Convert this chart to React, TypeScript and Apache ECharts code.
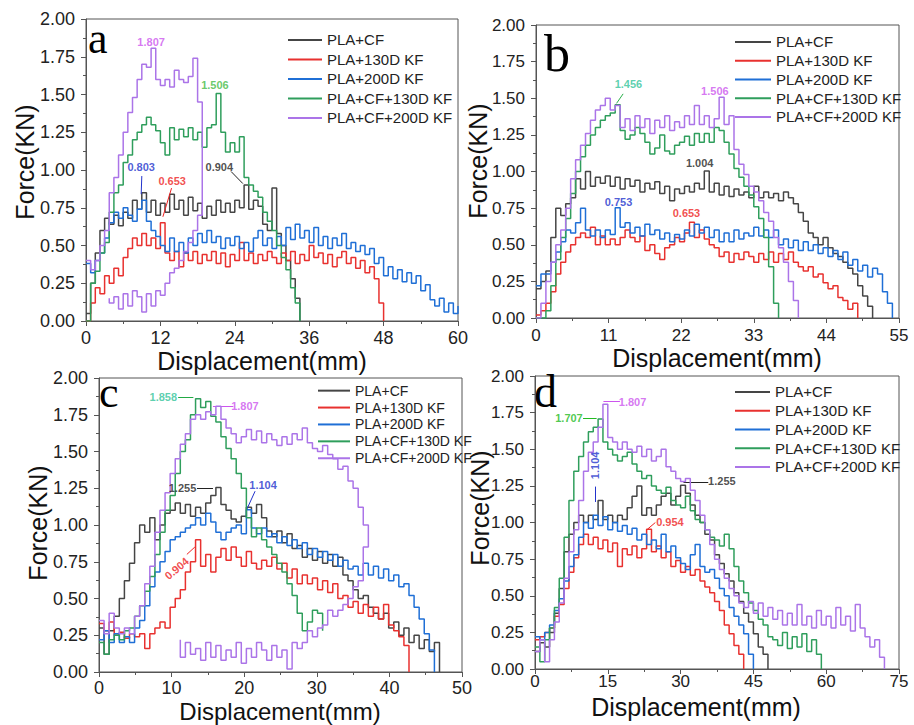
import React, { useEffect, useRef } from "react";
import * as echarts from "echarts";

const FONT = "'Liberation Sans', Arial, sans-serif";
const SERIF = "'Liberation Serif', 'Times New Roman', serif";

const NAMES = ["PLA+CF", "PLA+130D KF", "PLA+200D KF", "PLA+CF+130D KF", "PLA+CF+200D KF"];
const COLORS = ["#454545", "#e8312f", "#1f6fd6", "#2f9e5c", "#ab74e8"];

// ---------- Panel a (sampled every 0.75 mm from 0) ----------
const aStep = 0.75;
const aBlack = [0.05,0.25,0.45,0.6,0.68,0.64,0.7,0.63,0.72,0.68,0.8,0.74,0.85,0.72,0.8,0.7,0.78,0.72,0.84,0.74,0.8,0.7,0.82,0.73,0.78,0.68,0.76,0.7,0.8,0.72,0.78,0.72,0.8,0.75,0.9,0.74,0.8,0.76,0.64,0.6,0.88,0.58,0.5,0.4,0.28,0.15,0];
const aRed = [0,0.12,0.22,0.18,0.3,0.25,0.35,0.3,0.42,0.48,0.55,0.5,0.58,0.5,0.55,0.48,0.65,0.45,0.4,0.46,0.36,0.45,0.4,0.46,0.38,0.44,0.4,0.46,0.38,0.45,0.36,0.44,0.4,0.52,0.4,0.45,0.38,0.44,0.4,0.46,0.42,0.38,0.45,0.4,0.46,0.38,0.44,0.4,0.5,0.42,0.45,0.38,0.44,0.36,0.42,0.46,0.38,0.42,0.35,0.4,0.32,0.36,0.28,0.12,0];
const aBlue = [0.38,0.32,0.4,0.45,0.55,0.65,0.72,0.68,0.75,0.7,0.66,0.74,0.8,0.66,0.6,0.56,0.5,0.46,0.55,0.46,0.52,0.45,0.55,0.5,0.58,0.52,0.6,0.52,0.56,0.48,0.55,0.5,0.56,0.48,0.52,0.46,0.55,0.6,0.5,0.55,0.48,0.56,0.5,0.62,0.54,0.64,0.55,0.6,0.52,0.62,0.5,0.56,0.48,0.55,0.5,0.58,0.48,0.52,0.46,0.5,0.44,0.48,0.38,0.42,0.3,0.36,0.28,0.34,0.26,0.32,0.25,0.3,0.2,0.24,0.14,0.1,0.15,0.06,0.12,0.05,0.1];
const aGreen = [0,0.25,0.33,0.45,0.52,0.72,0.85,0.9,1.05,1.1,1.2,1.25,1.3,1.35,1.3,1.26,1.18,1.1,1.28,1.2,1.27,1.22,1.28,1.2,1.25,1.15,1.28,1.3,1.506,1.25,1.12,1.18,1.12,1.22,0.95,0.9,0.86,0.82,0.72,0.66,0.6,0.5,0.42,0.34,0.22,0.12,0];
const aPurpleUp = [0.4,0.34,0.4,0.5,0.6,0.85,0.95,1.1,1.25,1.38,1.48,1.6,1.7,1.68,1.807,1.6,1.56,1.6,1.55,1.66,1.6,1.58,1.62,1.74,1.45,0.7];
// lower branch, read from 18 mm going back to 3.75 mm
const aPurpleLowStart = 18;
const aPurpleLow = [0.6,0.52,0.46,0.4,0.35,0.32,0.25,0.17,0.2,0.1,0.18,0.06,0.16,0.2,0.1,0.18,0.08,0.16,0.12,0.15];

// ---------- Panel b (every 0.75 mm) ----------
const bStep = 0.75;
const bBlack = [0.2,0.25,0.32,0.55,0.75,0.7,0.78,0.82,0.95,0.88,1.0,0.9,0.96,0.92,0.97,0.9,0.96,0.88,0.95,0.9,0.94,0.86,0.92,0.88,0.93,0.85,0.9,0.8,0.88,0.85,0.9,0.86,0.92,0.88,1.004,0.86,0.92,0.84,0.9,0.83,0.88,0.84,0.86,0.82,0.9,0.82,0.86,0.82,0.85,0.8,0.86,0.82,0.78,0.72,0.66,0.58,0.55,0.5,0.55,0.48,0.44,0.42,0.38,0.34,0.3,0.22,0.15,0.08,0];
const bRed = [0.02,0.05,0.1,0.18,0.3,0.38,0.45,0.5,0.55,0.58,0.55,0.62,0.5,0.56,0.5,0.54,0.5,0.55,0.6,0.55,0.52,0.56,0.46,0.5,0.44,0.4,0.48,0.5,0.55,0.52,0.58,0.653,0.55,0.6,0.54,0.5,0.48,0.42,0.45,0.38,0.44,0.4,0.45,0.42,0.38,0.44,0.4,0.45,0.38,0.44,0.4,0.45,0.38,0.35,0.32,0.35,0.28,0.3,0.24,0.2,0.22,0.14,0.12,0.06,0.1,0];
const bBlue = [0.22,0.3,0.3,0.38,0.45,0.52,0.6,0.58,0.65,0.75,0.6,0.56,0.6,0.55,0.6,0.57,0.753,0.62,0.65,0.58,0.62,0.56,0.64,0.57,0.6,0.54,0.58,0.52,0.57,0.54,0.6,0.56,0.64,0.58,0.62,0.55,0.6,0.52,0.58,0.52,0.6,0.54,0.58,0.56,0.62,0.56,0.6,0.55,0.6,0.5,0.54,0.48,0.53,0.46,0.52,0.46,0.5,0.44,0.48,0.42,0.46,0.4,0.45,0.36,0.4,0.32,0.36,0.28,0.34,0.3,0.18,0.1,0];
const bGreen = [0,0,0.05,0.22,0.4,0.55,0.68,0.85,1.0,1.1,1.18,1.25,1.3,1.35,1.38,1.4,1.456,1.28,1.22,1.25,1.3,1.26,1.2,1.12,1.16,1.25,1.14,1.12,1.18,1.2,1.24,1.18,1.26,1.2,1.26,1.2,1.3,1.28,1.2,1.12,1.02,0.96,0.9,0.84,0.76,0.68,0.55,0.35,0.1,0];
const bPurple = [0,0.1,0.25,0.38,0.5,0.6,0.75,0.95,1.08,1.18,1.26,1.35,1.42,1.45,1.5,1.42,1.45,1.3,1.36,1.28,1.38,1.3,1.36,1.26,1.35,1.3,1.38,1.28,1.34,1.3,1.38,1.32,1.45,1.32,1.38,1.3,1.36,1.506,1.32,1.38,1.15,1.05,0.98,0.9,0.86,0.8,0.72,0.66,0.55,0.48,0.38,0.25,0.12,0];

// ---------- Panel c (every 0.7 mm) ----------
const cStep = 0.7;
const cBlack = [0.3,0.12,0.28,0.38,0.5,0.62,0.74,0.88,1.0,0.95,1.05,0.9,1.0,1.08,1.1,1.15,1.08,1.14,1.06,1.12,1.08,1.15,1.2,1.255,1.14,1.1,1.04,1.02,1.06,1.12,1.08,1.14,1.05,0.96,0.92,0.96,0.88,0.94,0.84,0.86,0.78,0.84,0.76,0.82,0.74,0.8,0.72,0.78,0.66,0.62,0.56,0.5,0.52,0.44,0.4,0.36,0.4,0.3,0.34,0.25,0.3,0.2,0.25,0.16,0.22,0.14,0.2,0];
const cRed = [0.33,0.28,0.34,0.25,0.27,0.23,0.26,0.24,0.26,0.16,0.26,0.3,0.34,0.3,0.44,0.5,0.56,0.68,0.75,0.9,0.72,0.8,0.68,0.78,0.84,0.76,0.85,0.78,0.72,0.82,0.74,0.7,0.76,0.72,0.78,0.7,0.74,0.64,0.7,0.6,0.66,0.6,0.64,0.56,0.62,0.54,0.6,0.5,0.52,0.44,0.48,0.4,0.46,0.38,0.44,0.36,0.46,0.32,0.28,0.24,0.18,0];
const cBlue = [0.22,0.28,0.2,0.26,0.2,0.24,0.2,0.3,0.35,0.45,0.58,0.68,0.75,0.82,0.9,0.92,0.95,0.98,1.0,1.05,1.0,1.08,1.02,0.95,0.9,0.95,0.98,1.0,0.94,1.104,0.98,0.94,0.98,0.92,0.94,0.88,0.92,0.86,0.9,0.84,0.88,0.8,0.84,0.78,0.82,0.76,0.8,0.72,0.76,0.7,0.72,0.66,0.74,0.66,0.72,0.64,0.7,0.62,0.66,0.58,0.6,0.52,0.44,0.36,0.26,0.15,0];
const cGreen = [0.2,0.12,0.22,0.25,0.22,0.28,0.3,0.38,0.45,0.55,0.65,0.8,0.95,1.1,1.2,1.35,1.5,1.58,1.75,1.858,1.8,1.84,1.74,1.7,1.6,1.52,1.45,1.35,1.25,1.05,0.92,0.98,0.9,0.85,0.8,0.74,0.68,0.6,0.52,0.4,0.28,0.34,0.42,0.4,0.28];
const cPurpleUp = [0.35,0.26,0.4,0.3,0.26,0.3,0.26,0.38,0.45,0.6,0.72,0.95,1.1,1.22,1.35,1.45,1.55,1.62,1.72,1.75,1.72,1.77,1.75,1.807,1.72,1.66,1.62,1.56,1.6,1.65,1.58,1.64,1.56,1.62,1.58,1.54,1.6,1.55,1.62,1.58,1.66,1.56,1.52,1.5,1.54,1.48,1.45,1.38,1.4,1.3,1.25,1.12,1.0,0.85];
// lower branch, read from 36.4 mm going back to 11.2 mm
const cPurpleLowStart = 36.4;
const cPurpleLow = [0.62,0.58,0.5,0.46,0.42,0.38,0.42,0.32,0.3,0.24,0.28,0.2,0.16,0.2,0.02,0.15,0.1,0.18,0.08,0.15,0.2,0.1,0.16,0.06,0.2,0.1,0.15,0.08,0.18,0.1,0.2,0.08,0.16,0.12,0.2,0.1,0.22];

// ---------- Panel d (every 1 mm) ----------
const dStep = 1;
const dBlack = [0.12,0.18,0.15,0.25,0.38,0.55,0.8,0.92,1.0,1.05,1.0,1.05,1.02,1.15,1.02,1.05,1.0,1.05,1.02,1.1,1.18,1.25,1.05,1.1,1.05,1.12,1.18,1.2,1.12,1.18,1.255,1.2,1.12,1.05,1.0,0.92,0.88,0.78,0.72,0.65,0.6,0.52,0.46,0.38,0.32,0.24,0.15,0.1,0];
const dRed = [0.2,0.22,0.25,0.28,0.36,0.44,0.55,0.66,0.76,0.85,0.92,0.85,0.9,0.82,0.88,0.8,0.86,0.7,0.82,0.78,0.84,0.76,0.82,0.954,0.8,0.84,0.76,0.8,0.7,0.74,0.66,0.7,0.64,0.68,0.6,0.56,0.52,0.46,0.4,0.3,0.24,0.16,0.1,0];
const dBlue = [0.22,0.2,0.25,0.3,0.4,0.48,0.6,0.7,0.78,0.9,1.0,0.96,1.05,0.98,1.04,0.95,1.0,0.94,0.98,0.92,0.96,0.88,0.92,0.85,0.88,0.82,0.92,0.8,0.84,0.76,0.72,0.68,0.78,0.85,0.7,0.66,0.68,0.62,0.55,0.5,0.42,0.36,0.3,0.24,0.1,0];
const dGreen = [0.15,0.05,0.2,0.28,0.42,0.62,0.9,1.15,1.35,1.45,1.55,1.62,1.65,1.707,1.55,1.5,1.46,1.42,1.45,1.48,1.4,1.35,1.3,1.32,1.25,1.22,1.2,1.24,1.15,1.12,1.1,1.18,1.08,1.02,1.0,0.95,0.9,0.88,0.84,0.92,0.82,0.7,0.6,0.52,0.45,0.4,0.34,0.3,0.22,0.2,0.16,0.25,0.14,0.22,0.15,0.24,0.12,0.2,0.1,0];
const dPurple = [0.12,0.2,0.05,0.2,0.32,0.45,0.62,0.8,0.95,1.15,1.35,1.48,1.55,1.65,1.807,1.58,1.55,1.5,1.55,1.5,1.48,1.52,1.45,1.5,1.42,1.45,1.5,1.38,1.35,1.3,1.28,1.3,1.22,1.15,1.05,0.95,0.85,0.75,0.68,0.62,0.55,0.5,0.45,0.42,0.46,0.38,0.45,0.36,0.42,0.34,0.4,0.3,0.38,0.3,0.44,0.3,0.36,0.28,0.4,0.3,0.36,0.28,0.42,0.3,0.36,0.26,0.44,0.28,0.22,0.15,0.2,0.08,0];

// ---------- annotations: [text, colour, x, y, rotate] and arrows [x1,y1,x2,y2,colour] ----------
const LP = "#cc55ee", LB = "#2233cc", LR = "#ee2222", LK = "#222222";
const aLabels: [string, string, number, number, number][] = [
  ["1.807", LP, 10.5, 1.85, 0], ["1.506", "#44bb44", 20.8, 1.56, 0], ["0.904", LK, 21.5, 1.02, 0],
  ["0.803", LB, 8.9, 1.02, 0], ["0.653", LR, 13.9, 0.93, 0],
];
const aArrows: [number, number, number, number, string][] = [
  [23.4, 0.99, 25.3, 0.91, LK], [9.0, 0.96, 8.9, 0.84, LB], [13.8, 0.88, 12.4, 0.69, LR],
];
const bLabels: [string, string, number, number, number][] = [
  ["1.456", "#33c49a", 14.0, 1.6, 0], ["1.506", LP, 27.1, 1.55, 0], ["1.004", LK, 24.8, 1.056, 0],
  ["0.753", LB, 12.5, 0.79, 0], ["0.653", LR, 22.8, 0.715, 0],
];
const bArrows: [number, number, number, number, string][] = [[13.2, 1.53, 12.2, 1.465, "#2ab04a"]];
const cLabels: [string, string, number, number, number][] = [
  ["1.858", "#33c49a", 8.86, 1.87, 0], ["1.807", LP, 20.1, 1.81, 0], ["1.255", LK, 11.5, 1.25, 0],
  ["1.104", LB, 22.6, 1.27, 0], ["0.904", LR, 10.7, 0.705, 40],
];
const cArrows: [number, number, number, number, string][] = [
  [10.9, 1.87, 13.0, 1.87, "#22aa44"], [18.5, 1.81, 15.7, 1.81, LP], [13.5, 1.25, 15.7, 1.25, LK],
  [21.5, 1.23, 20.3, 1.1, LB], [12.1, 0.8, 13.2, 0.85, LR],
];
const dLabels: [string, string, number, number, number][] = [
  ["1.707", "#22bb22", 7.0, 1.71, 0], ["1.807", LP, 20.1, 1.825, 0], ["1.104", LB, 12.4, 1.39, 90],
  ["0.954", LR, 27.8, 1.005, 0], ["1.255", LK, 38.5, 1.285, 0],
];
const dArrows: [number, number, number, number, string][] = [
  [9.9, 1.71, 12.7, 1.71, "#22bb22"], [17.5, 1.825, 14.1, 1.825, LP], [12.4, 1.245, 12.4, 1.14, LB],
  [24.8, 1.0, 23.2, 0.955, LR], [35.7, 1.275, 30.6, 1.275, LK],
];

function seq(ys: number[], x0: number, dx: number): number[][] {
  return ys.map((y, i) => [Math.round((x0 + i * dx) * 1000) / 1000, y]);
}

function buildOption() {
  const panels = [
    {
      grid: { left: 86, top: 19, width: 372, height: 302 }, xMax: 60, xInt: 12, font: 18, xMargin: 8,
      legend: { left: 283, top: 25.2, line: 19.5, size: 15, w: 34 },
      data: [seq(aBlack, 0, aStep), seq(aRed, 0, aStep), seq(aBlue, 0, aStep), seq(aGreen, 0, aStep),
        seq(aPurpleUp, 0, aStep).concat(seq(aPurpleLow, aPurpleLowStart, -aStep))],
      labels: aLabels, arrows: aArrows,
    },
    {
      grid: { left: 536, top: 25, width: 363, height: 293 }, xMax: 55, xInt: 11, font: 17, xMargin: 9,
      legend: { left: 730, top: 27.6, line: 18.75, size: 15, w: 36 },
      data: [seq(bBlack, 0, bStep), seq(bRed, 0, bStep), seq(bBlue, 0, bStep), seq(bGreen, 0, bStep), seq(bPurple, 0, bStep)],
      labels: bLabels, arrows: bArrows,
    },
    {
      grid: { left: 99, top: 378, width: 363, height: 294 }, xMax: 50, xInt: 10, font: 18, xMargin: 7,
      legend: { left: 313, top: 377.2, line: 16.9, size: 14, w: 32 },
      data: [seq(cBlack, 0, cStep), seq(cRed, 0, cStep), seq(cBlue, 0, cStep), seq(cGreen, 0, cStep),
        seq(cPurpleUp, 0, cStep).concat(seq(cPurpleLow, cPurpleLowStart, -cStep))],
      labels: cLabels, arrows: cArrows,
    },
    {
      grid: { left: 535, top: 376, width: 364, height: 293 }, xMax: 75, xInt: 15, font: 17, xMargin: 4,
      legend: { left: 730, top: 377.6, line: 18.75, size: 15, w: 35 },
      data: [seq(dBlack, 0, dStep), seq(dRed, 0, dStep), seq(dBlue, 0, dStep), seq(dGreen, 0, dStep), seq(dPurple, 0, dStep)],
      labels: dLabels, arrows: dArrows,
    },
  ];

  const axisColor = "#555";
  const grid: any[] = [], xAxis: any[] = [], yAxis: any[] = [], legend: any[] = [], series: any[] = [];
  panels.forEach((p, k) => {
    grid.push({ ...p.grid, show: true, borderColor: axisColor, borderWidth: 1, backgroundColor: "transparent" });
    xAxis.push({
      type: "value", gridIndex: k, min: 0, max: p.xMax, interval: p.xInt,
      axisLine: { show: true, onZero: false, lineStyle: { color: axisColor, width: 1 } },
      axisTick: { show: true, length: 5, lineStyle: { color: axisColor } },
      minorTick: { show: true, splitNumber: 2, length: 3, lineStyle: { color: axisColor } },
      axisLabel: { fontSize: p.font, color: "#222", margin: p.xMargin, fontFamily: FONT },
      splitLine: { show: false },
    });
    yAxis.push({
      type: "value", gridIndex: k, min: 0, max: 2, interval: 0.25,
      axisLine: { show: true, onZero: false, lineStyle: { color: axisColor, width: 1 } },
      axisTick: { show: true, length: 5, lineStyle: { color: axisColor } },
      minorTick: { show: true, splitNumber: 2, length: 3, lineStyle: { color: axisColor } },
      axisLabel: { fontSize: p.font, color: "#222", margin: 11, fontFamily: FONT, formatter: (v: number) => v.toFixed(2) },
      splitLine: { show: false },
    });
    legend.push({
      orient: "vertical", left: p.legend.left, top: p.legend.top, itemWidth: p.legend.w, itemHeight: 2,
      icon: "rect", itemGap: 0, selectedMode: false, data: NAMES,
      textStyle: { fontSize: p.legend.size, color: "#222", fontFamily: FONT, lineHeight: p.legend.line },
    });
    p.data.forEach((d, i) => {
      series.push({
        type: "line", name: NAMES[i], xAxisIndex: k, yAxisIndex: k, data: d, step: "end",
        symbol: "none", showSymbol: false, silent: true,
        lineStyle: { color: COLORS[i], width: 1.5 }, itemStyle: { color: COLORS[i] }, z: 2 + i,
      });
    });
    series.push({
      type: "scatter", xAxisIndex: k, yAxisIndex: k, symbolSize: 1, silent: true, z: 20,
      itemStyle: { color: "rgba(0,0,0,0)" },
      data: p.labels.map((l) => ({
        value: [l[2], l[3]],
        label: { show: true, position: "inside", formatter: l[0], color: l[1], fontSize: 11, fontWeight: "bold", fontFamily: FONT, rotate: l[4] },
      })),
      markLine: {
        silent: true, symbol: ["none", "arrow"], symbolSize: [0, 6], label: { show: false },
        data: p.arrows.map((a) => [
          { coord: [a[0], a[1]], lineStyle: { color: a[4], width: 1, type: "solid" }, itemStyle: { color: a[4] } },
          { coord: [a[2], a[3]] },
        ]),
      },
    });
  });

  const title = (text: string, x: number, y: number, rot = 0, size = 25) => ({
    type: "text", x, y, rotation: rot, silent: true,
    style: { text, font: `${size}px ${FONT}`, fill: "#111", textAlign: "center", textVerticalAlign: "middle" },
  });
  const letter = (text: string, x: number, y: number, size: number) => ({
    type: "text", x, y, silent: true,
    style: { text, font: `${size}px ${SERIF}`, fill: "#000", textAlign: "left", textVerticalAlign: "middle" },
  });

  const graphic = [
    title("Displacement(mm)", 262, 361), title("Displacement(mm)", 717, 358),
    title("Displacement(mm)", 280, 711, 0, 24), title("Displacement(mm)", 696, 707),
    title("Force(KN)", 25, 162, Math.PI / 2), title("Force(KN)", 478, 161, Math.PI / 2),
    title("Force(KN)", 38, 523, Math.PI / 2), title("Force(KN)", 480, 508, Math.PI / 2),
    letter("a", 88, 38, 44), letter("b", 544, 53, 52), letter("c", 99, 392, 44), letter("d", 534, 391, 46),
  ];

  return { animation: false, backgroundColor: "#fff", grid, xAxis, yAxis, legend, series, graphic };
}

export default function App() {
  const ref = useRef<HTMLDivElement>(null);
  useEffect(() => {
    const chart = echarts.init(ref.current!, null, { renderer: "svg" });
    chart.setOption(buildOption() as any);
    return () => chart.dispose();
  }, []);
  return (
    <div
      ref={ref}
      style={{ position: "absolute", left: 0, top: 0, width: 914, height: 725, background: "#fff" }}
    />
  );
}
